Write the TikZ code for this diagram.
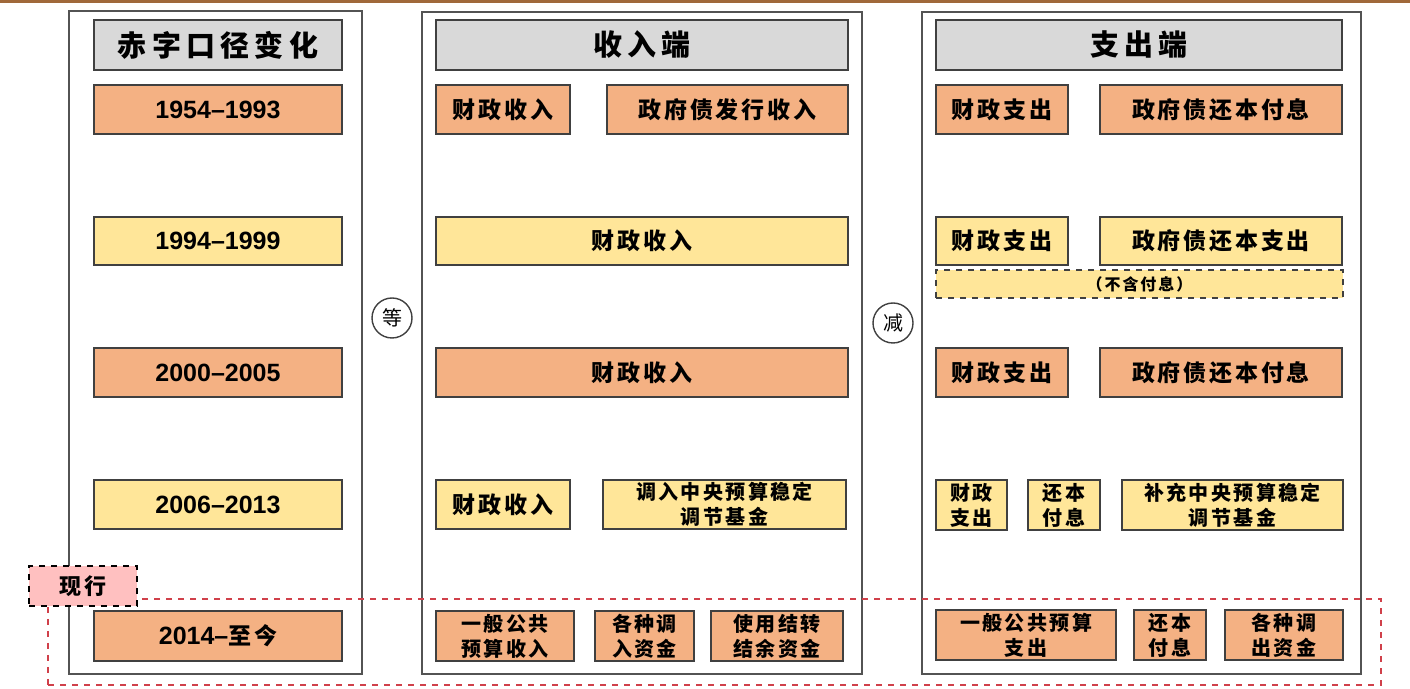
\documentclass[tikz,border=0pt]{standalone}
\usepackage{fontspec}
\newfontfamily\cjk[LetterSpace=12]{Noto Sans CJK SC}
\newfontfamily\cjkh[LetterSpace=18]{Noto Sans CJK SC}
\newfontfamily\numf{Liberation Sans}
\definecolor{orng}{HTML}{F4B183}
\definecolor{ylw}{HTML}{FFE699}
\definecolor{hdr}{HTML}{D9D9D9}
\definecolor{pnk}{HTML}{FFC0C0}
\definecolor{rdash}{HTML}{D0404A}
\definecolor{topbar}{HTML}{A0683A}
\definecolor{edge}{HTML}{404040}
\newcommand\mybox[7]{\node[#6, minimum width={(#4-#2)*0.5pt}, minimum height={(#5-#3)*0.5pt}] (#1) at ({(#2+#4)/2},{(#3+#5)/2}) {#7};}
\tikzset{
  panel/.style={draw=edge!90, line width=0.8pt, inner sep=0pt},
  hbox/.style={draw=edge, line width=0.7pt, fill=hdr, inner sep=0pt, font=\cjkh\bfseries\fontsize{14.5pt}{16pt}\selectfont},
  obox/.style={draw=edge, line width=0.7pt, fill=orng, inner sep=0pt, font=\cjk\bfseries\fontsize{11.5pt}{13pt}\selectfont},
  ybox/.style={draw=edge, line width=0.7pt, fill=ylw, inner sep=0pt, font=\cjk\bfseries\fontsize{11.5pt}{13pt}\selectfont},
  twol/.style={align=center, font=\cjk\bfseries\fontsize{10pt}{12.5pt}\selectfont},
  numtxt/.style={font=\numf\bfseries\fontsize{12.5pt}{14pt}\selectfont},
  dbox/.style={draw=edge, dashed, line width=0.6pt, fill=ylw, inner sep=0pt, font=\cjk\bfseries\fontsize{8pt}{10pt}\selectfont},
  circ/.style={draw=edge, circle, line width=0.7pt, fill=white, minimum size=20pt, inner sep=0pt, font=\cjk\fontsize{10pt}{12pt}\selectfont},
  nowbox/.style={draw=black, dashed, line width=0.6pt, fill=pnk, inner sep=0pt, font=\cjk\bfseries\fontsize{11pt}{13pt}\selectfont},
  reddash/.style={draw=rdash, dashed, line width=0.7pt, inner sep=0pt}
}
\begin{document}
\begin{tikzpicture}[x=0.5pt,y=-0.5pt]
\useasboundingbox (0,0) rectangle (1410,689);
\fill[topbar] (0,0) rectangle (1410,3);
% panels
\mybox{pl}{69}{11}{362}{674}{panel}{}
\mybox{pm}{422}{12}{862}{674}{panel}{}
\mybox{pr}{922}{12}{1361}{674}{panel}{}
% headers
\mybox{hl}{94}{20}{342}{70}{hbox}{赤字口径变化}
\mybox{hm}{436}{20}{848}{70}{hbox}{收入端}
\mybox{hr}{936}{20}{1342}{70}{hbox}{支出端}
% row 1
\mybox{l1}{94}{85}{342}{134}{obox,numtxt}{1954–1993}
\mybox{m1a}{436}{85}{570}{134}{obox}{财政收入}
\mybox{m1b}{607}{85}{848}{134}{obox}{政府债发行收入}
\mybox{r1a}{936}{85}{1068}{134}{obox}{财政支出}
\mybox{r1b}{1100}{85}{1342}{134}{obox}{政府债还本付息}
% row 2
\mybox{l2}{94}{217}{342}{265}{ybox,numtxt}{1994–1999}
\mybox{m2}{436}{217}{848}{265}{ybox}{财政收入}
\mybox{r2a}{936}{217}{1068}{265}{ybox}{财政支出}
\mybox{r2b}{1100}{217}{1342}{265}{ybox}{政府债还本支出}
\mybox{r2c}{936}{270}{1343}{298}{dbox}{（不含付息）}
% row 3
\mybox{l3}{94}{348}{342}{397}{obox,numtxt}{2000–2005}
\mybox{m3}{436}{348}{848}{397}{obox}{财政收入}
\mybox{r3a}{936}{348}{1068}{397}{obox}{财政支出}
\mybox{r3b}{1100}{348}{1342}{397}{obox}{政府债还本付息}
% row 4
\mybox{l4}{94}{480}{342}{529}{ybox,numtxt}{2006–2013}
\mybox{m4a}{436}{480}{570}{529}{ybox}{财政收入}
\mybox{m4b}{603}{480}{846}{529}{ybox,twol}{调入中央预算稳定\\调节基金}
\mybox{r4a}{936}{480}{1007}{530}{ybox,twol}{财政\\支出}
\mybox{r4b}{1028}{480}{1100}{530}{ybox,twol}{还本\\付息}
\mybox{r4c}{1122}{480}{1343}{530}{ybox,twol}{补充中央预算稳定\\调节基金}
% row 5
\mybox{l5}{94}{611}{342}{661}{obox}{{\numf\bfseries\fontsize{12.5pt}{14pt}\selectfont 2014–}至今}
\mybox{m5a}{436}{611}{574}{661}{obox,twol}{一般公共\\预算收入}
\mybox{m5b}{595}{611}{694}{661}{obox,twol}{各种调\\入资金}
\mybox{m5c}{711}{611}{843}{661}{obox,twol}{使用结转\\结余资金}
\mybox{r5a}{936}{610}{1116}{660}{obox,twol}{一般公共预算\\支出}
\mybox{r5b}{1134}{610}{1206}{660}{obox,twol}{还本\\付息}
\mybox{r5c}{1225}{610}{1343}{660}{obox,twol}{各种调\\出资金}
% current regime frame
\mybox{cur}{48}{599}{1381}{685}{reddash}{}
\mybox{now}{29}{566}{137}{606}{nowbox}{现行}
% operators
\node[circ] (eq) at (392,318) {等};
\node[circ] (minus) at (893,323) {减};
\end{tikzpicture}
\end{document}
